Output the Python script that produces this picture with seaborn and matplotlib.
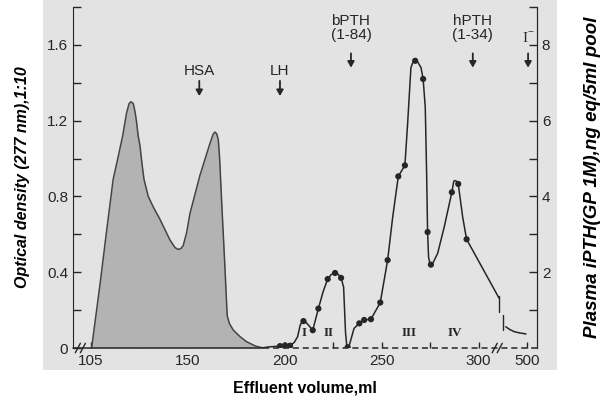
import matplotlib
matplotlib.use("Agg")
import matplotlib.pyplot as plt
from matplotlib.patches import Rectangle
import pandas as pd
import seaborn as sns

# optical density trace (277 nm), shaded
od_ml = [100.5, 105.0, 108.0, 111.6, 114.2, 116.5, 118.5, 119.8, 120.8, 122.0, 123.0,
         123.7, 124.5, 125.4, 126.5, 127.5, 129.7, 132.5, 135.7, 140.9, 143.5, 145.2,
         146.5, 147.7, 149.5, 151.2, 156.3, 161.5, 163.2, 164.1, 165.0, 165.8, 166.5,
         167.5, 169.2, 170.4, 171.5, 173.5, 177.0, 180.4, 185.0, 189.0]
od_val = [0.0, 0.35, 0.60, 0.89, 1.01, 1.12, 1.24, 1.29, 1.30, 1.29, 1.24,
          1.19, 1.12, 1.07, 0.97, 0.89, 0.80, 0.74, 0.68, 0.57, 0.53, 0.52,
          0.525, 0.54, 0.61, 0.71, 0.91, 1.08, 1.13, 1.14, 1.13, 1.10, 1.00,
          0.78, 0.43, 0.17, 0.13, 0.095, 0.06, 0.033, 0.01, 0.0]

# iPTH trace (right axis)
pth_ml = [188.0, 192.0, 197.6, 200.2, 202.8, 205.0, 206.7, 208.0, 209.0, 209.7, 210.6,
          212.0, 214.5, 217.4, 219.8, 222.2, 224.0, 226.0, 227.5, 229.1, 230.4, 230.9,
          231.4, 232.0, 232.5, 233.3, 234.1, 235.8, 238.5, 241.0, 244.5, 249.3, 253.1,
          255.7, 258.6, 262.0, 263.4, 265.1, 266.2, 267.3, 268.6, 270.3, 271.4, 272.5,
          273.2, 273.7, 274.2, 274.8, 275.4, 276.5, 278.9, 282.3, 286.2, 287.2, 287.9,
          288.6, 289.5, 291.8, 293.8, 310.6]
pth_val = [0.0, 0.03, 0.05, 0.07, 0.06, 0.15, 0.30, 0.60, 0.70, 0.71, 0.70,
           0.62, 0.47, 1.04, 1.48, 1.82, 1.94, 1.98, 1.95, 1.85, 1.61, 1.00,
           0.40, 0.08, 0.02, 0.07, 0.21, 0.52, 0.65, 0.74, 0.76, 1.20, 2.32,
           3.45, 4.53, 4.82, 5.92, 7.40, 7.55, 7.58, 7.55, 7.40, 7.10, 6.35,
           4.60, 3.06, 2.40, 2.25, 2.20, 2.25, 2.50, 3.20, 4.11, 4.40, 4.42,
           4.40, 4.33, 3.45, 2.87, 1.31]
tail_ml = [314.0, 316.0, 318.4, 321.0, 324.4]
tail_val = [0.56, 0.49, 0.43, 0.40, 0.37]

# measured pools (dots)
dot_ml = [197.6, 200.2, 202.8, 209.7, 214.5, 217.4, 222.2, 226.0, 229.1, 232.5, 238.5,
          241.0, 244.5, 249.3, 253.1, 258.6, 262.0, 267.3, 271.4, 273.7, 275.4, 286.2,
          289.5, 293.8]
dot_val = [0.05, 0.07, 0.06, 0.71, 0.47, 1.04, 1.82, 1.98, 1.85, 0.02, 0.65,
           0.74, 0.76, 1.20, 2.32, 4.53, 4.82, 7.58, 7.10, 3.06, 2.20, 4.11,
           4.33, 2.87]

# markers
markers = ["HSA", "LH", "bPTH\n(1-84)", "hPTH\n(1-34)", "I$^{-}$"]
marker_ml = [156.0, 197.6, 234.2, 297.0, 325.5]
fractions = ["I", "II", "III", "IV"]
fraction_ml = [210.1, 222.5, 264.0, 288.0]

x_ticks = [100, 125, 150, 175, 200, 225, 250, 275, 300, 325]
x_labels = ["105", "", "150", "", "200", "", "250", "", "300", "500"]
od_ticks = [0, 0.2, 0.4, 0.6, 0.8, 1.0, 1.2, 1.4, 1.6, 1.8]
od_labels = ["0", "", "0.4", "", "0.8", "", "1.2", "", "1.6", ""]
pth_ticks = [1, 2, 3, 4, 5, 6, 7, 8, 9]
pth_labels = ["", "2", "", "4", "", "6", "", "8", ""]

sns.set_style("ticks")
plt.rcParams['font.family'] = ['Liberation Sans', 'DejaVu Sans']
plt.rcParams['mathtext.fontset'] = 'custom'
plt.rcParams['mathtext.rm'] = 'Liberation Serif'

ink = "#262626"
paper = "#e3e3e3"

fig = plt.figure(figsize=(6.03, 4.08), dpi=100, facecolor="white")
fig.patches.append(Rectangle((0.071, 0.093), 0.853, 0.907, transform=fig.transFigure,
                             facecolor=paper, edgecolor="none", zorder=-10))
ax = fig.add_axes([73 / 603, 1 - 348 / 408, (537 - 73) / 603, (348 - 7) / 408])
ax.set_facecolor("none")

od = pd.DataFrame({"ml": od_ml, "od": od_val})
ax.fill_between(od["ml"], 0, od["od"], color="#b3b3b3", lw=0, zorder=1)
sns.lineplot(data=od, x="ml", y="od", ax=ax, color="#444444", lw=1.1, zorder=2)

ax.set_xlim(90.9, 330.1)
ax.set_ylim(0, 1.8)
ax.set_xticks(x_ticks)
ax.set_xticklabels(x_labels)
ax.set_yticks(od_ticks)
ax.set_yticklabels(od_labels)
ax.tick_params(direction="in", length=6, width=1, colors=ink, labelsize=11)
ax.tick_params(axis="x", length=4, pad=4)
for s in ["top", "bottom"]:
    ax.spines[s].set_visible(False)
ax.spines["left"].set_color(ink)
ax.spines["right"].set_color(ink)

# bottom axis: solid then dashed baseline, with break marks
ax.plot([90.9, 189.0], [0, 0], color=ink, lw=1.1, clip_on=False, zorder=3)
ax.plot([189.0, 330.1], [0, 0], color=ink, lw=1.1, ls=(0, (4, 2.5)), clip_on=False, zorder=3)
for bx in [93.4, 96.0, 308.3, 310.9]:
    ax.plot([bx - 1.3, bx + 1.3], [-0.025, 0.025], color=ink, lw=1.0, clip_on=False, zorder=4)

ax.set_xlabel("Effluent volume,ml", fontsize=11.5, fontweight="bold", color="black", labelpad=9)
ax.set_ylabel("Optical density (277 nm),1:10", fontsize=11.5, fontweight="bold",
              style="italic", color="black", labelpad=12)

ax2 = ax.twinx()
ax2.set_ylim(0, 9)
pth = pd.DataFrame({"ml": pth_ml, "v": pth_val})
tail = pd.DataFrame({"ml": tail_ml, "v": tail_val})
dots = pd.DataFrame({"ml": dot_ml, "v": dot_val})
sns.lineplot(data=pth, x="ml", y="v", ax=ax2, color=ink, lw=1.1)
sns.lineplot(data=tail, x="ml", y="v", ax=ax2, color=ink, lw=1.1)
sns.scatterplot(data=dots, x="ml", y="v", ax=ax2, color=ink, s=20, edgecolor="none", zorder=5)
ax2.plot([310.4, 310.4], [1.37, 0.95], color=ink, lw=1.0)
ax2.plot([312.7, 312.7], [0.87, 0.47], color=ink, lw=1.0)
ax2.set_yticks(pth_ticks)
ax2.set_yticklabels(pth_labels)
ax2.tick_params(direction="in", length=6, width=1, colors=ink, labelsize=11)
for s in ["top", "bottom", "left"]:
    ax2.spines[s].set_visible(False)
ax2.spines["right"].set_color(ink)
ax2.set_xlabel("")
ax2.set_ylabel("Plasma iPTH(GP 1M),ng eq/5ml pool", fontsize=13.5, fontweight="bold",
               style="italic", color="black", labelpad=24)

# elution markers
for name, mx in zip(markers, marker_ml):
    if name in ("HSA", "LH"):
        ty, a0, a1 = 1.46, 1.41, 1.33
    elif name.startswith("I"):
        ty, a0, a1 = 1.632, 1.555, 1.48
    else:
        ty, a0, a1 = 1.69, 1.555, 1.48
    ax.text(mx, ty, name, ha="center", va="center", fontsize=11, color=ink,
            linespacing=1.0, family=["Liberation Serif"] if name.startswith("I") else None)
    ax.annotate("", xy=(mx, a1), xytext=(mx, a0),
                arrowprops=dict(arrowstyle="-|>,head_length=0.35,head_width=0.2",
                                color=ink, lw=1.3, shrinkA=0, shrinkB=0))

for name, fx in zip(fractions, fraction_ml):
    ax.text(fx, 0.079, name, ha="center", va="center", fontsize=9.5, color=ink,
            family=["Liberation Serif"], fontweight="bold")

fig.savefig("out.png", dpi=100, facecolor="white")
